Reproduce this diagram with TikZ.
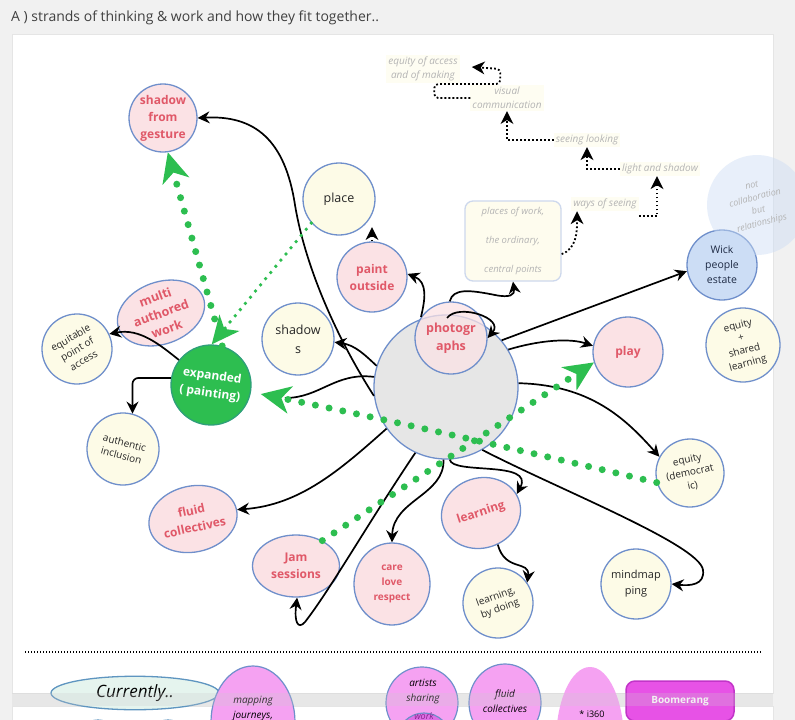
\documentclass[tikz,border=0pt]{standalone}
\usepackage{fontspec}
\setmainfont{Open Sans}
\usetikzlibrary{arrows.meta,shapes.geometric}
\definecolor{bg}{HTML}{F1F1F1}
\definecolor{bord}{HTML}{6F8FCB}
\definecolor{pinkf}{HTML}{FBE2E5}
\definecolor{redt}{HTML}{E05868}
\definecolor{cream}{HTML}{FDFBE7}
\definecolor{grayc}{HTML}{E6E6E6}
\definecolor{gr}{HTML}{2DBE50}
\definecolor{grb}{HTML}{2E9F7A}
\definecolor{faint}{HTML}{B4B4B4}
\definecolor{wickf}{HTML}{CCDDF5}
\definecolor{viol}{HTML}{F5A2F2}
\definecolor{violdk}{HTML}{DE6FE6}
\definecolor{mag}{HTML}{E752E6}
\definecolor{magdk}{HTML}{C235C8}
\definecolor{mint}{HTML}{E5F4EE}
\definecolor{mintb}{HTML}{5E95C0}
\definecolor{navy}{HTML}{1E2A44}
\newcommand\myfs[2]{\fontsize{#1}{#2}\selectfont}
\begin{document}
\begin{tikzpicture}[x=1pt,y=-1pt,
 nd/.style={draw=bord, line width=1.3pt, align=center, inner sep=0pt},
 pk/.style={nd, fill=pinkf, text=redt, font=\bfseries\myfs{12}{17}},
 cr/.style={nd, fill=cream, text=black!85, font=\myfs{10}{13}},
 crc/.style={cr, circle, minimum size=#1},
 pkc/.style={pk, circle, minimum size=#1},
 arr/.style={line width=1.7pt, -{Stealth[length=12pt,width=12pt,inset=4pt]}},
 fdot/.style={line width=1.8pt, dash pattern=on 1.8pt off 2.2pt, -{Stealth[length=13pt,width=13pt,inset=4pt,line width=0pt]}},
 gbig/.style={gr, line width=7pt, line cap=round, dash pattern=on 0pt off 14pt, -{Stealth[length=30pt,width=28pt,inset=9pt,line width=0pt]}},
 gsmall/.style={gr, line width=3.8pt, line cap=round, dash pattern=on 0pt off 8pt, -{Stealth[length=28pt,width=26pt,inset=8pt,line width=0pt]}},
 flab/.style={fill=cream!55, text=faint, font=\itshape\myfs{10}{14}, align=center, inner sep=2pt},
 bot/.style={draw=bord, line width=1.2pt, fill=viol},
]
\useasboundingbox (0,0) rectangle (795,720);
\clip (0,0) rectangle (795,720);
% background
\fill[bg] (0,0) rectangle (795,720);
\draw[fill=white, draw=black!10] (12,34) rectangle (773,693);
\draw[fill=white, draw=black!10] (12,706) rectangle (773,730);
\node[anchor=west, font=\myfs{14}{16}, text=black!75, inner sep=0pt] (T) at (11,18) {A ) strands of thinking \& work and how they fit together..};

% nodes
\node[nd, circle, fill=grayc, minimum size=144pt] (C) at (446,387) {};
\node[pkc=68pt] (SG) at (163,118) {shadow\\from\\gesture};
\node[crc=72pt, font=\myfs{12.5}{17}] (PL) at (339,199) {place};
\node[pkc=70pt] (PO) at (372,277) {paint\\outside};
\node[crc=72pt, font=\myfs{12.5}{19}] (SH) at (298,339) {shadow\\s};
\node[pk, ellipse, minimum width=90pt, minimum height=62pt, rotate=20, font=\bfseries\myfs{12.5}{17}] (MA) at (161,313) {multi\\authored\\work};
\node[crc=70pt, rotate=30] (EQ) at (77,349) {equitable\\point of\\access};
\node[circle, minimum size=80pt, fill=gr, draw=grb, line width=1.3pt, text=white, align=center, inner sep=0pt, font=\bfseries\myfs{12}{18}, rotate=-8] (E) at (211,385) {expanded\\( painting)};
\node[crc=72pt, rotate=-15] (AI) at (123,449) {authentic\\inclusion};
\node[pkc=72pt, fill opacity=0.75, text opacity=1, font=\bfseries\myfs{12.5}{18}] (P) at (451,338) {photogr\\aphs};
\node[pkc=70pt] (PY) at (628,352) {play};
\node[nd, circle, fill=wickf, minimum size=70pt, text=navy, font=\myfs{10.5}{15}] (W) at (722,265) {Wick\\people\\estate};
\node[circle, fill=wickf, fill opacity=0.45, text opacity=1, minimum size=100pt, text=faint, align=center, rotate=15, font=\itshape\myfs{9}{13}] (NC) at (757,205) {not\\collaboration\\but\\relationships};
\node[crc=74pt, rotate=15] (ES) at (743,345) {equity\\+\\shared\\learning};
\node[crc=68pt, rotate=12] (ED) at (690,473) {equity\\(democrat\\ic)};
\node[pk, ellipse, minimum width=80pt, minimum height=70pt, rotate=18] (L) at (481,513) {learning};
\node[crc=70pt, rotate=20] (LB) at (498,603) {learning,\\by doing};
\node[crc=70pt, font=\myfs{11}{16}] (MM) at (636,584) {mindmap\\ping};
\node[pk, ellipse, minimum width=76pt, minimum height=82pt, font=\bfseries\myfs{10}{15}] (CL) at (392,584) {care\\love\\respect};
\node[pk, ellipse, minimum width=87pt, minimum height=62pt] (JS) at (296,566) {Jam\\sessions};
\node[pk, ellipse, minimum width=88pt, minimum height=66pt, rotate=12] (FC) at (193,519) {fluid\\collectives};
\node[draw=bord!35, fill=cream!70, rounded corners=8pt, line width=1.3pt, minimum width=96pt, minimum height=80pt, text=faint, font=\itshape\myfs{9.5}{29}, align=center] (PW) at (513,241) {places of work,\\the ordinary,\\central points};
\node[flab] (WS) at (605,204) {ways of seeing};
\node[flab] (LS) at (660,169) {light and shadow};
\node[flab] (SL) at (587,140) {seeing looking};
\node[flab] (VC) at (507,98) {visual\\communication};
\node[flab] (EA) at (423,69) {equity of access\\and of making};
\coordinate (p1) at (447,318);

% black connectors
\draw[arr] (C.187) .. controls (335,335) and (305,265) .. (295,205) .. controls (285,140) and (255,115) .. (SG.east);
\draw[arr] (C.163) .. controls (365,355) and (355,345) .. (SH.-5);
\draw[line width=1.7pt] (C.172) .. controls (335,372) and (320,398) .. (285,398);
\draw[arr] (C.215) .. controls (340,470) and (300,505) .. (FC.east);
\draw[arr] (C.245) .. controls (370,520) and (330,590) .. (305,622) .. controls (298,630) and (294,622) .. (JS.-88);
\draw[arr] (C.268) .. controls (445,495) and (393,500) .. (CL.north);
\draw[arr] (C.273) .. controls (452,475) and (535,460) .. (L.10);
\draw[arr] (C.300) .. controls (560,490) and (700,545) .. (703,570) .. controls (705,585) and (690,586) .. (MM.east);
\draw[arr] (L.-80) .. controls (505,572) and (530,560) .. (LB.15);
\draw[arr] (C.3) .. controls (590,385) and (625,418) .. (ED.140);
\draw[arr] (C.31) .. controls (540,340) and (570,338) .. (PY.170);
\draw[arr] (C.40) -- (W.190);
\draw[arr] (p1) .. controls (458,303) and (505,318) .. (P.0);
\draw[arr] (P.92) .. controls (453,288) and (470,290) .. (495,295) .. controls (510,298) and (515,295) .. (PW.south);
\draw[arr] (P.145) .. controls (425,300) and (428,282) .. (PO.5);
\draw[arr] (E.150) .. controls (160,345) and (140,328) .. (EQ.-5);
\draw[arr, rounded corners=6pt] (E.178) -| (AI.north);

% faint dotted chain
\draw[fdot] (PW.-15) .. controls +(15,-5) and +(0,20) .. ([xshift=6pt]WS.south west);
\draw[fdot] ([yshift=-5pt]WS.south east) -| ([xshift=-3pt]LS.south);
\draw[fdot] (LS.west) -| (SL.south);
\draw[fdot] (SL.west) -| (VC.south);
\draw[fdot, rounded corners=4pt] (VC.west) -- ++(-36,0) -- ++(0,-14) -- ++(66,0) -- ++(0,-15) -- ([shift={(12,-2)}]EA.east);
\draw[fdot] (PO.north) -- (PO.north |- PL.-50);

% green dotted
\draw[gbig] (E.82) -- (SG.-82);
\draw[gsmall] (PL.221) -- (E.97);
\draw[gbig, shorten >=10pt] (ED.184) .. controls (520,450) and (380,418) .. (E.-2);
\draw[gbig] (JS.44) -- (PY.197);

% bottom section
\draw[line width=1.3pt, dash pattern=on 1.3pt off 1.7pt] (25,652) -- (762,652);
\node[draw=mintb, fill=mint, ellipse, line width=1.3pt, minimum width=168pt, minimum height=30pt, font=\itshape\myfs{17}{20}] (CU) at (135,693) {Currently..};
\node[circle, draw=mintb, fill=mint, line width=1.2pt, minimum size=44pt] (B1) at (98,742) {};
\node[circle, draw=mintb, fill=mint, line width=1.2pt, minimum size=44pt] (B2) at (168,742) {};
\node[bot, ellipse, minimum width=84pt, minimum height=112pt] (MJ) at (253,722) {};
\node[font=\itshape\myfs{10}{15}, align=center] (MJt) at (253,709) {mapping\\journeys,};
\node[bot, circle, minimum size=72pt] (AS) at (422,703) {};
\node[font=\itshape\myfs{10}{15}, align=center] (ASt) at (423,692) {artists\\sharing};
\node[bot, circle, fill=violdk, minimum size=54pt] (WK) at (424,740) {};
\node[font=\itshape\myfs{9}{10}, text=magdk!70!black] (WKt) at (424,716) {work};
\node[bot, ellipse, minimum width=72pt, minimum height=78pt] (FB) at (505,703) {};
\node[font=\itshape\myfs{10}{15}, align=center] (FBt) at (505,701) {fluid\\collectives};
\node[ellipse, fill=viol, minimum width=68pt, minimum height=150pt] (I3) at (590,742) {};
\node[font=\myfs{9}{10}] (I3t) at (592,714) {* i360};
\node[rounded corners=9pt, fill=mag, draw=magdk, line width=1.5pt, minimum width=108pt, minimum height=40pt, text=white, font=\bfseries\myfs{10}{12}] (BO) at (680,701) {Boomerang};
\fill[black!20, opacity=0.25] (12,693) rectangle (773,706);
\end{tikzpicture}
\end{document}
